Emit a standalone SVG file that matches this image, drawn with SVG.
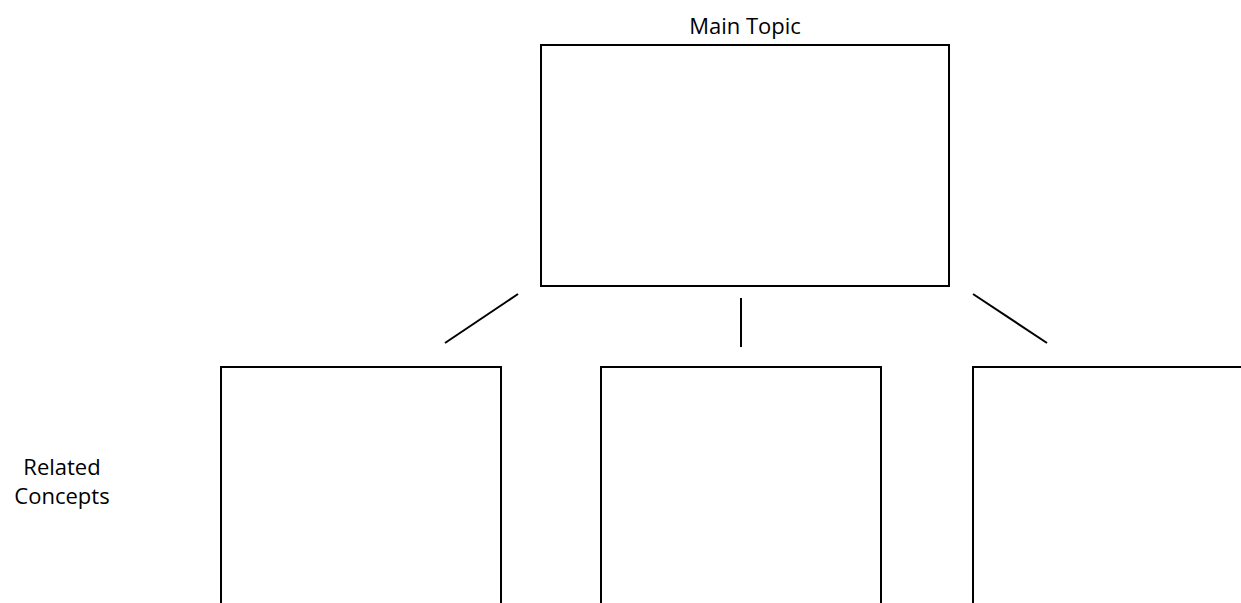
<svg xmlns="http://www.w3.org/2000/svg" width="1241" height="603" viewBox="0 0 1241 603">
<style>
.box{fill:#fff;stroke:#000;stroke-width:2}
.con{stroke:#000;stroke-width:2;fill:none}
.lbl{font-family:"Open Sans","Noto Sans",sans-serif;font-size:22px;fill:#000;text-anchor:middle}
</style>
<rect width="1241" height="603" fill="#fff"/>
<g id="main-topic">
<text class="lbl" x="745" y="34">Main Topic</text>
<rect class="box" x="541" y="45" width="408" height="241"/>
</g>
<g id="connectors">
<line class="con" x1="518" y1="294" x2="445" y2="343"/>
<line class="con" x1="741" y1="298" x2="741" y2="347"/>
<line class="con" x1="973" y1="294" x2="1047" y2="343"/>
</g>
<g id="concept-1">
<rect class="box" x="221" y="367" width="280" height="250"/>
</g>
<g id="concept-2">
<rect class="box" x="601" y="367" width="280" height="250"/>
</g>
<g id="concept-3">
<rect class="box" x="973" y="367" width="290" height="250"/>
</g>
<g id="related-label">
<text class="lbl" x="62" y="475">Related</text>
<text class="lbl" x="62" y="504">Concepts</text>
</g>
</svg>
